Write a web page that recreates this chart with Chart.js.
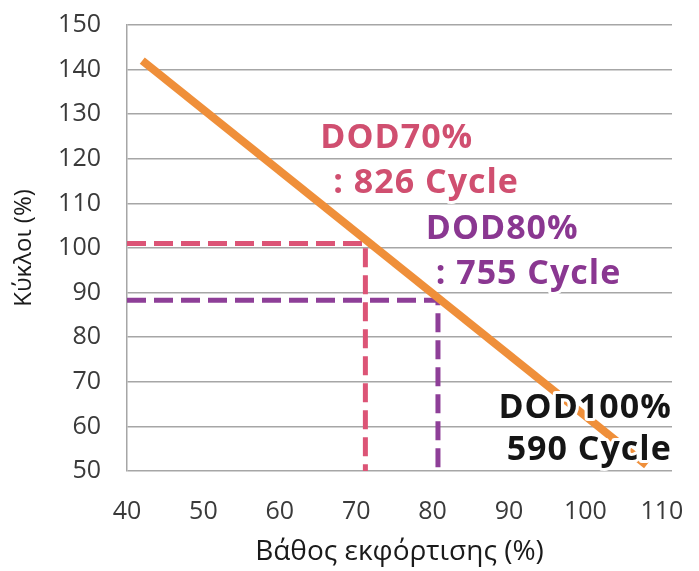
<!DOCTYPE html>
<html>
<head>
<meta charset="utf-8">
<script src="https://cdn.jsdelivr.net/npm/chart.js@4"></script>
<style>
body{margin:0;background:#fff}
canvas{display:block}
</style>
</head>
<body>
<canvas id="dodChart" width="699" height="571"></canvas>
<script>

/* =========================
   DATA
========================= */

// main curve: depth of discharge (%) vs cycles (%)
const dodX = [42, 108]
const cycleY = [142, 51.3]

// dashed guide lines
const guide70X = [40, 71.2, 71.2]
const guide70Y = [101, 101, 50]
const guide80X = [40, 80.7, 80.7]
const guide80Y = [88.3, 88.3, 50]

// axis ticks
const xTicks = [40, 50, 60, 70, 80, 90, 100, 110]
const yTicks = [50, 60, 70, 80, 90, 100, 110, 120, 130, 140, 150]

// notes (anchored in data units)
const noteText = ["DOD70%", ": 826 Cycle", "DOD80%", ": 755 Cycle", "DOD100%", "590 Cycle"]
const noteX = [65.3, 67.0, 79.1, 80.4, 111.3, 111.3]
const noteY = [124.6, 114.4, 104.1, 94.2, 64.1, 54.7]
const noteAlign = ["left", "left", "left", "left", "right", "right"]
const noteColor = ["#d04f70", "#d04f70", "#8a3791", "#8a3791", "#151515", "#151515"]

const toPts = (xs, ys) => xs.map((x, i) => ({x: x, y: ys[i]}))

/* =========================
   NOTES PLUGIN
========================= */

const notesPlugin = {
id: "notes",
afterDatasetsDraw(chart){
let ctx = chart.ctx
let xs = chart.scales.x
let ys = chart.scales.y
ctx.save()
ctx.font = "bold 34px 'Open Sans'"
ctx.letterSpacing = "1px"
ctx.textBaseline = "middle"
ctx.lineJoin = "round"
noteText.forEach((t, i) => {
let px = xs.getPixelForValue(noteX[i])
let py = ys.getPixelForValue(noteY[i])
ctx.textAlign = noteAlign[i]
ctx.strokeStyle = "#fff"
ctx.lineWidth = 6
ctx.strokeText(t, px, py)
ctx.fillStyle = noteColor[i]
ctx.fillText(t, px, py)
})
ctx.restore()
}
}

/* =========================
   CHART
========================= */

let ctx = document.getElementById("dodChart").getContext("2d")

new Chart(ctx, {
type: "line",
data: {
datasets: [
{
data: toPts(dodX, cycleY),
borderColor: "#ef8f3a",
borderWidth: 8,
pointRadius: 0
},
{
data: toPts(guide70X, guide70Y),
borderColor: "#dc5476",
borderWidth: 5,
borderDash: [19, 8],
pointRadius: 0,
clip: false
},
{
data: toPts(guide80X, guide80Y),
borderColor: "#8e3f98",
borderWidth: 5,
borderDash: [19, 8],
pointRadius: 0,
clip: false
}
]
},
options: {
responsive: false,
animation: false,
layout: {padding: {left: 0, right: 27, top: 25, bottom: 0}},
plugins: {
legend: {display: false},
tooltip: {enabled: false}
},
scales: {
x: {
type: "linear",
min: 40,
max: 111.33,
afterBuildTicks: s => { s.ticks = xTicks.map(v => ({value: v})) },
afterFit: s => {
s.height = 100
s.paddingLeft = 0
s.paddingRight = 0
},
grid: {display: false},
border: {display: false},
ticks: {
color: "#3a3a3a",
padding: 18,
font: {family: "Open Sans", size: 25}
},
title: {
display: true,
text: "Βάθος εκφόρτισης (%)",
color: "#1a1a1a",
padding: {top: 0, bottom: 2},
font: {family: "Open Sans", size: 28}
}
},
y: {
min: 50,
max: 150,
afterBuildTicks: s => { s.ticks = yTicks.map(v => ({value: v})) },
afterFit: s => {
s.width = 127
s.paddingTop = 0
s.paddingBottom = 0
},
grid: {color: "#a6a6a6", lineWidth: 1.5, drawTicks: false},
border: {display: true, color: "#a6a6a6", width: 1.5},
ticks: {
color: "#3a3a3a",
padding: 26,
font: {family: "Open Sans", size: 25}
},
title: {
display: true,
text: "Κύκλοι (%)",
color: "#1a1a1a",
padding: {top: 10, bottom: 0},
font: {family: "Open Sans", size: 24}
}
}
}
},
plugins: [notesPlugin]
})

</script>
</body>
</html>
